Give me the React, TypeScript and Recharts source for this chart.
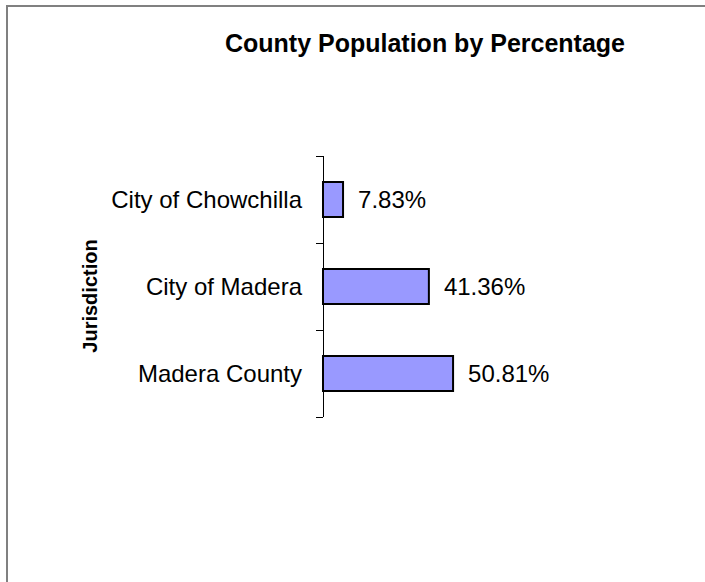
import React from 'react';
import { BarChart, Bar, XAxis, YAxis, LabelList } from 'recharts';

const jurisdictions = ['City of Chowchilla', 'City of Madera', 'Madera County'];
const percentages = [7.83, 41.36, 50.81];

const data = jurisdictions.map((name, i) => ({ name, value: percentages[i] }));

const FONT = '"Liberation Sans", Arial, sans-serif';

const CHART_W = 705;
const CHART_H = 582;
const MARGIN = { top: 156, right: 126, bottom: 165, left: 0 };
const TICK_SIZE = 7;
const TICK_MARGIN = 14;
const BAND = (CHART_H - MARGIN.top - MARGIN.bottom) / jurisdictions.length;

// category label plus Excel-style tick marks on the band boundaries
const CategoryTick = (props: any) => {
  const { x, y, payload, index, visibleTicksCount } = props;
  const x1 = x + TICK_MARGIN;
  const x2 = x + TICK_MARGIN + TICK_SIZE;
  const isLast = index === (visibleTicksCount ?? jurisdictions.length) - 1;
  return (
    <g>
      <line x1={x1} x2={x2} y1={y - BAND / 2} y2={y - BAND / 2} stroke="#000" shapeRendering="crispEdges" />
      {isLast && (
        <line x1={x1} x2={x2} y1={y + BAND / 2} y2={y + BAND / 2} stroke="#000" shapeRendering="crispEdges" />
      )}
      <text x={x} y={y} textAnchor="end" dominantBaseline="central" fill="#000" fontSize={24} fontFamily={FONT}>
        {payload.value}
      </text>
    </g>
  );
};

export default function App() {
  return (
    <div style={{ position: 'absolute', left: 0, top: 0, width: CHART_W, height: CHART_H, overflow: 'hidden', background: '#fff', fontFamily: FONT }}>
      {/* outer frame, only left and top edges visible */}
      <div style={{ position: 'absolute', left: 6, top: 5, width: 900, height: 800, borderLeft: '2px solid #808080', borderTop: '2px solid #808080' }} />

      <svg width={CHART_W} height={CHART_H} style={{ position: 'absolute', left: 0, top: 0 }}>
        <text x={425} y={52} textAnchor="middle" fontFamily={FONT} fontWeight="bold" fontSize={25} fill="#000">
          County Population by Percentage
        </text>
        <text
          x={90}
          y={296}
          textAnchor="middle"
          dominantBaseline="central"
          transform="rotate(-90 90 296)"
          fontFamily={FONT}
          fontWeight="bold"
          fontSize={20}
          fill="#000"
        >
          Jurisdiction
        </text>
      </svg>

      <div style={{ position: 'absolute', left: 0, top: 0 }}>
        <BarChart width={CHART_W} height={CHART_H} data={data} layout="vertical" margin={MARGIN}>
          <XAxis type="number" domain={[0, 100]} hide />
          <YAxis
            type="category"
            dataKey="name"
            width={323}
            tickLine={false}
            tickSize={TICK_SIZE}
            tickMargin={TICK_MARGIN}
            axisLine={{ stroke: '#000', strokeWidth: 1, shapeRendering: 'crispEdges' }}
            tick={<CategoryTick />}
            interval={0}
          />
          <Bar
            dataKey="value"
            fill="#9999FF"
            stroke="#000"
            strokeWidth={2}
            barSize={35}
            isAnimationActive={false}
          >
            <LabelList
              dataKey="value"
              position="right"
              offset={15}
              formatter={(v: number) => `${v.toFixed(2)}%`}
              fill="#000"
              fontSize={24}
              fontFamily={FONT}
            />
          </Bar>
        </BarChart>
      </div>
    </div>
  );
}
